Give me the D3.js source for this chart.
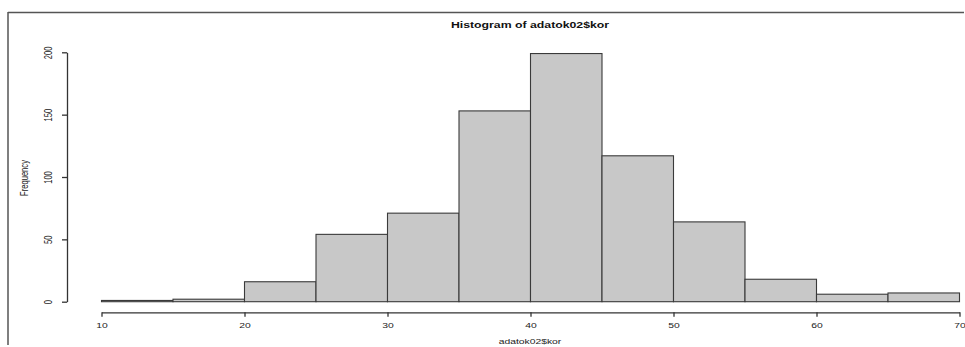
<!DOCTYPE html>
<html lang="en">
<head>
<meta charset="UTF-8">
<title>Histogram of adatok02$kor</title>
<script src="https://d3js.org/d3.v7.min.js"></script>
<style>
body { margin: 0; background: #fff; }
svg { display: block; background: #fff; }
.axis path, .axis line { stroke: #333; stroke-width: 1.3; }
.axis text { fill: #222; font-family: "Liberation Sans", Arial, sans-serif; }
.bar { fill: #c8c8c8; stroke: #3a3a3a; stroke-width: 1.1; }
</style>
</head>
<body>
<svg id="chart" width="965" height="347"></svg>
<script>
// histogram data (bin edges + counts)
const binStarts = [10, 15, 20, 25, 30, 35, 40, 45, 50, 55, 60, 65];
const binWidth = 5;
const counts = [1, 2, 16, 54, 71, 153, 199, 117, 64, 18, 6, 7];
const xTicks = [10, 20, 30, 40, 50, 60, 70];
const yTicks = [0, 50, 100, 150, 200];

const width = 965, height = 347;
const sx = 1.38; // the picture is stretched sideways

const svg = d3.select("#chart");

// frame of the screenshot (top + left edge)
svg.append("line").attr("x1", 8).attr("y1", 12.5).attr("x2", 964).attr("y2", 12.5)
    .attr("stroke", "#555").attr("stroke-width", 1.5);
svg.append("line").attr("x1", 8).attr("y1", 12).attr("x2", 8).attr("y2", 345)
    .attr("stroke", "#555").attr("stroke-width", 1.5);

const x = d3.scaleLinear().domain([10, 70]).range([101.5, 959.5]);
const y = d3.scaleLinear().domain([0, 200]).range([301.7, 52.3]);

// bars
svg.append("g").selectAll("rect")
    .data(binStarts)
    .join("rect")
    .attr("class", "bar")
    .attr("x", d => x(d))
    .attr("width", d => x(d + binWidth) - x(d))
    .attr("y", (d, i) => y(counts[i]))
    .attr("height", (d, i) => y(0) - y(counts[i]));

// x axis (R style: line spans first to last tick)
const xAxis = svg.append("g")
    .attr("class", "axis")
    .attr("transform", "translate(0,312.3)")
    .call(d3.axisBottom(x).tickValues(xTicks).tickSize(4.5).tickSizeOuter(0).tickFormat(d3.format("d")));
xAxis.selectAll(".tick text")
    .attr("y", 0).attr("dy", 0)
    .attr("font-size", 7.5)
    .attr("transform", `translate(0,15.5) scale(${sx},1)`);

// y axis
const yAxis = svg.append("g")
    .attr("class", "axis")
    .attr("transform", "translate(67,0)")
    .call(d3.axisLeft(y).tickValues(yTicks).tickSize(5).tickSizeOuter(0));
yAxis.selectAll(".tick text")
    .attr("x", 0).attr("dy", 0)
    .attr("font-size", 7.6)
    .attr("text-anchor", "middle")
    .attr("transform", `translate(-15,0) scale(${sx},1) rotate(-90)`);

// title and axis labels
const font = "'Liberation Sans', Arial, sans-serif";
svg.append("text")
    .attr("transform", `translate(530,28) scale(${sx},1)`)
    .attr("text-anchor", "middle")
    .attr("font-family", font).attr("font-weight", "bold").attr("font-size", 8.9)
    .attr("fill", "#111")
    .text("Histogram of adatok02$kor");

svg.append("text")
    .attr("transform", `translate(530,344) scale(${sx},1)`)
    .attr("text-anchor", "middle")
    .attr("font-family", font).attr("font-size", 7.5)
    .attr("fill", "#222")
    .text("adatok02$kor");

svg.append("text")
    .attr("transform", `translate(28,178) scale(${sx},1) rotate(-90)`)
    .attr("text-anchor", "middle")
    .attr("font-family", font).attr("font-size", 7.6)
    .attr("fill", "#222")
    .text("Frequency");
</script>
</body>
</html>
